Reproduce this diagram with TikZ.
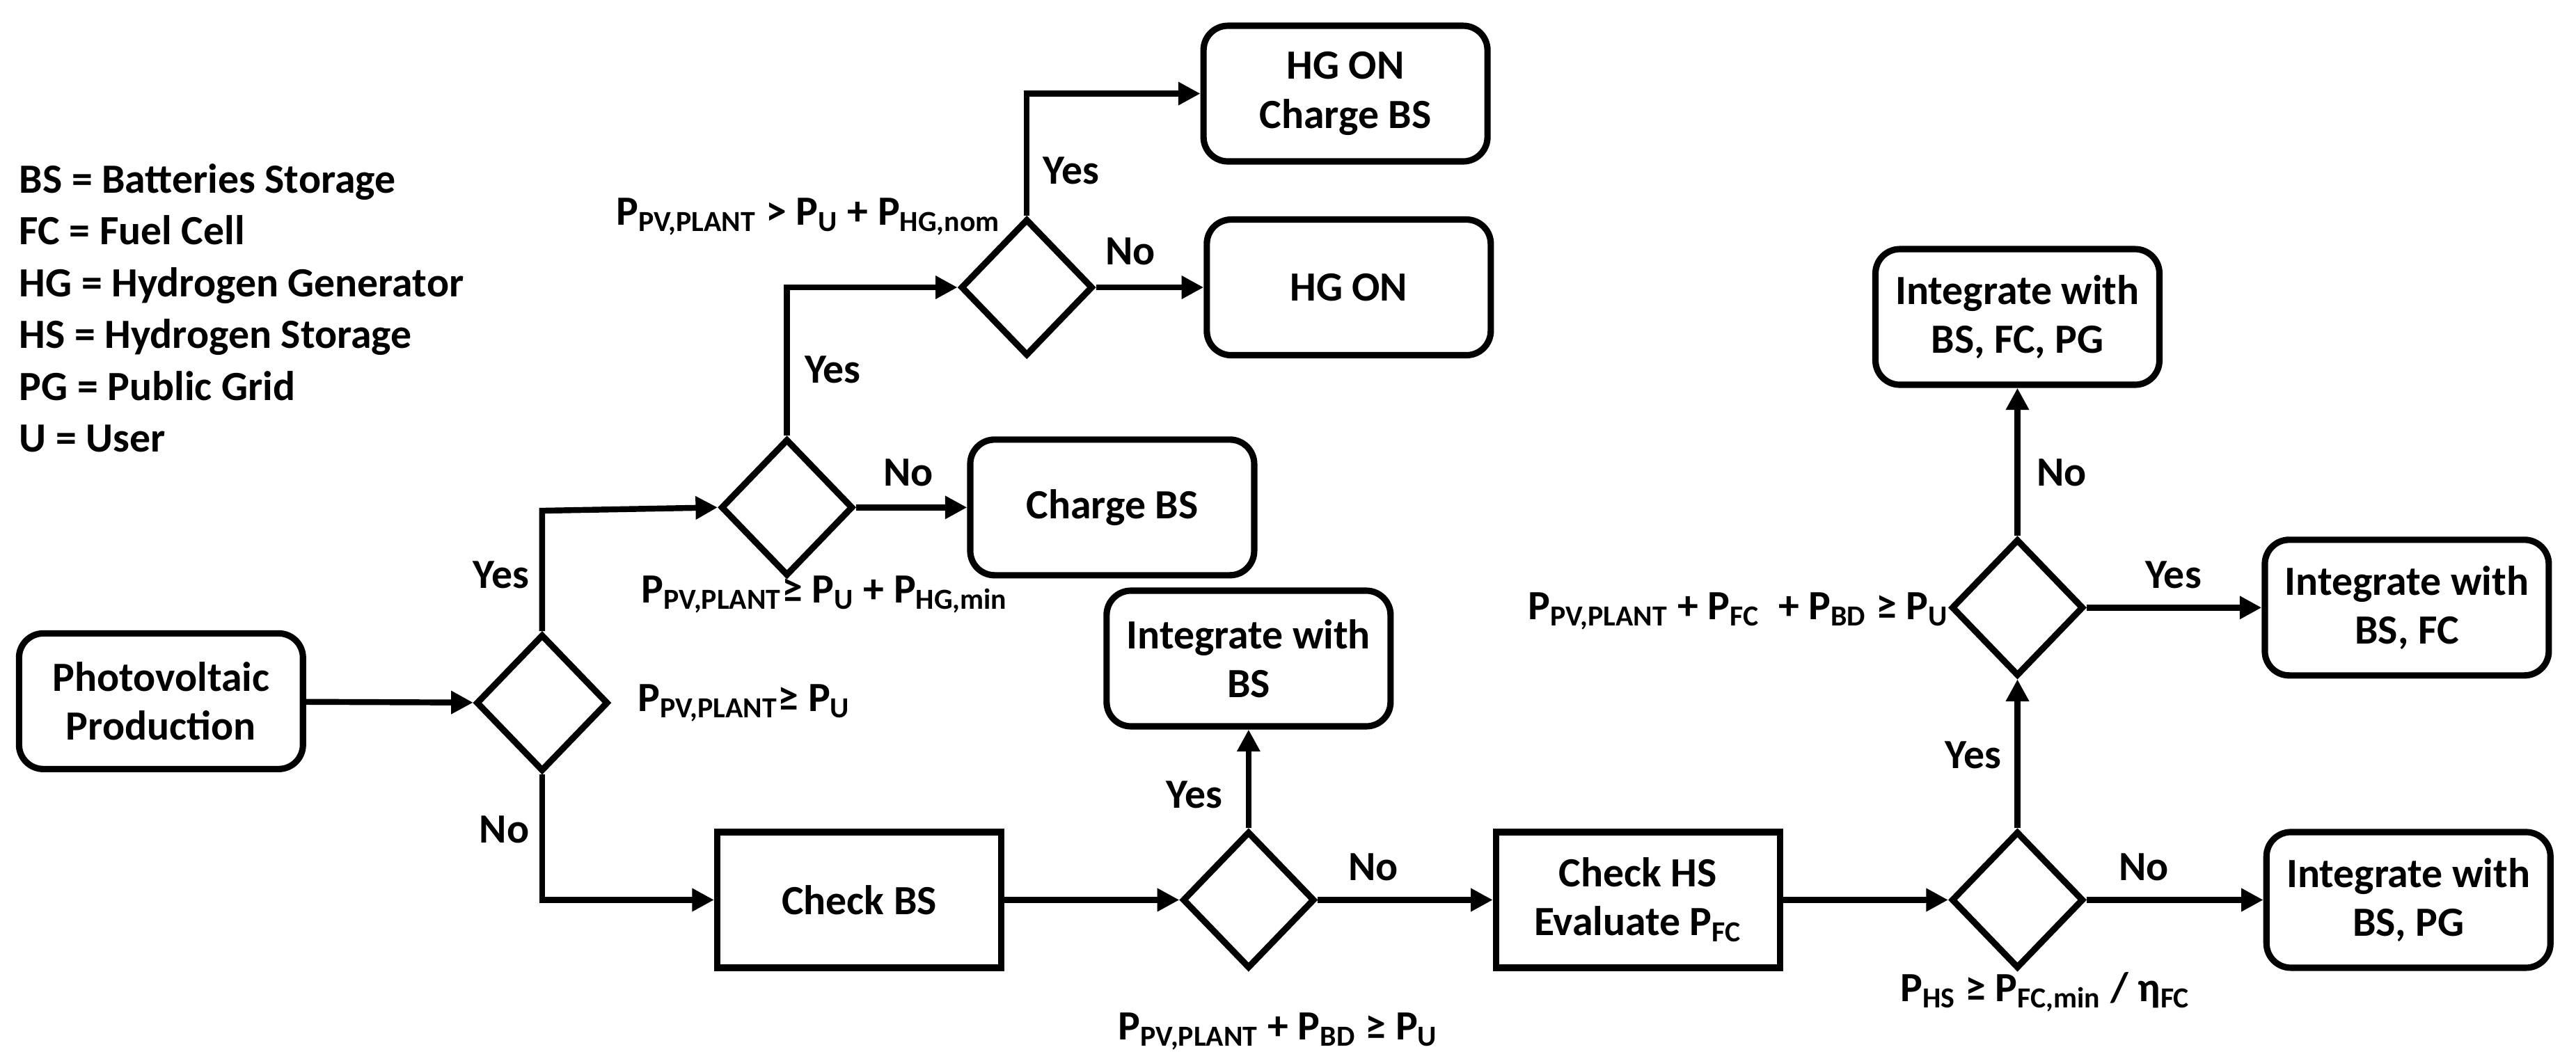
\documentclass[tikz,border=0pt]{standalone}
\usepackage{fontspec}
\setmainfont{Carlito}
\usetikzlibrary{shapes.geometric,arrows.meta}
\newcommand{\sub}[1]{\textsubscript{#1}}
\begin{document}
\begin{tikzpicture}[x=0.0236cm,y=-0.0236cm,line width=2.4pt,
  font=\fontsize{17}{20}\selectfont\bfseries,
  box/.style={draw,rounded corners=0.35cm,minimum width=4.08cm,minimum height=1.95cm,align=center,line width=2.6pt},
  sbox/.style={draw,minimum width=4.08cm,minimum height=1.95cm,align=center,line width=2.6pt},
  dec/.style={draw,diamond,inner sep=0pt,minimum width=1.9cm,minimum height=1.97cm,line width=2.6pt},
  arr/.style={-{Triangle[length=9pt,width=9pt]}},
  lab/.style={inner sep=1pt}]
  \useasboundingbox (0,0) rectangle (1568,646);
  % legend
  \node[anchor=north west,align=left,inner sep=0pt,font=\fontsize{17}{21.2}\selectfont\bfseries] at (10,98)
    {BS = Batteries Storage\\FC = Fuel Cell\\HG = Hydrogen Generator\\HS = Hydrogen Storage\\PG = Public Grid\\U = User};
  % nodes
  \node[box] (pv) at (98,427) {Photovoltaic\\Production};
  \node[dec] (d1) at (330,428) {};
  \node[dec] (d2) at (479,309) {};
  \node[dec] (d3) at (625,175) {};
  \node[box] (hgc) at (819,57) {HG ON\\Charge BS};
  \node[box] (hg) at (821,175) {HG ON};
  \node[box] (cbs) at (677,309) {Charge BS};
  \node[sbox] (chk) at (523,548) {Check BS};
  \node[dec] (d4) at (760,548) {};
  \node[box] (ibs) at (760,401) {Integrate with\\BS};
  \node[sbox] (chs) at (997,548) {Check HS\\Evaluate P\sub{FC}};
  \node[dec] (d5) at (1228,548) {};
  \node[dec] (d6) at (1228,370) {};
  \node[box] (ipg) at (1466,548) {Integrate with\\BS, PG};
  \node[box] (ifc) at (1465,370) {Integrate with\\BS, FC};
  \node[box] (iall) at (1228,193) {Integrate with\\BS, FC, PG};
  \coordinate (c1) at (330,311);
  \coordinate (c2) at (479,175);
  \coordinate (c3) at (625,57);
  \coordinate (c4) at (330,548);
  % connectors
  \draw[arr] (pv) -- (d1);
  \draw[arr] (d1.north) -- (c1) -- (d2.west);
  \draw[arr] (d2) -- (cbs);
  \draw[arr] (d2.north) -- (c2) -- (d3.west);
  \draw[arr] (d3.north) -- (c3) -- (hgc.west);
  \draw[arr] (d3) -- (hg);
  \draw[arr] (d1.south) -- (c4) -- (chk.west);
  \draw[arr] (chk) -- (d4);
  \draw[arr] (d4) -- (ibs);
  \draw[arr] (d4) -- (chs);
  \draw[arr] (chs) -- (d5);
  \draw[arr] (d5) -- (ipg);
  \draw[arr] (d5) -- (d6);
  \draw[arr] (d6) -- (ifc);
  \draw[arr] (d6) -- (iall);
  % labels
  \node[lab] at (305,350) {Yes};
  \node[lab] at (307,505) {No};
  \node[lab] at (553,288) {No};
  \node[lab] at (507,225) {Yes};
  \node[lab] at (652,104) {Yes};
  \node[lab] at (688,153) {No};
  \node[lab] at (727,484) {Yes};
  \node[lab] at (836,528) {No};
  \node[lab] at (1201,460) {Yes};
  \node[lab] at (1305,528) {No};
  \node[lab] at (1323,350) {Yes};
  \node[lab] at (1255,288) {No};
  \node[lab,anchor=west] at (385,428) {P\sub{PV,PLANT}≥ P\sub{U}};
  \node[lab] at (502,362) {P\sub{PV,PLANT}≥ P\sub{U} + P\sub{HG,min}};
  \node[lab] at (492,132) {P\sub{PV,PLANT} > P\sub{U} + P\sub{HG,nom}};
  \node[lab] at (778,628) {P\sub{PV,PLANT} + P\sub{BD} ≥ P\sub{U}};
  \node[lab] at (1245,604) {P\sub{HS} ≥ P\sub{FC,min} / η\sub{FC}};
  \node[lab] at (1058,372) {P\sub{PV,PLANT} + P\sub{FC}~ + P\sub{BD} ≥ P\sub{U}};
\end{tikzpicture}
\end{document}
